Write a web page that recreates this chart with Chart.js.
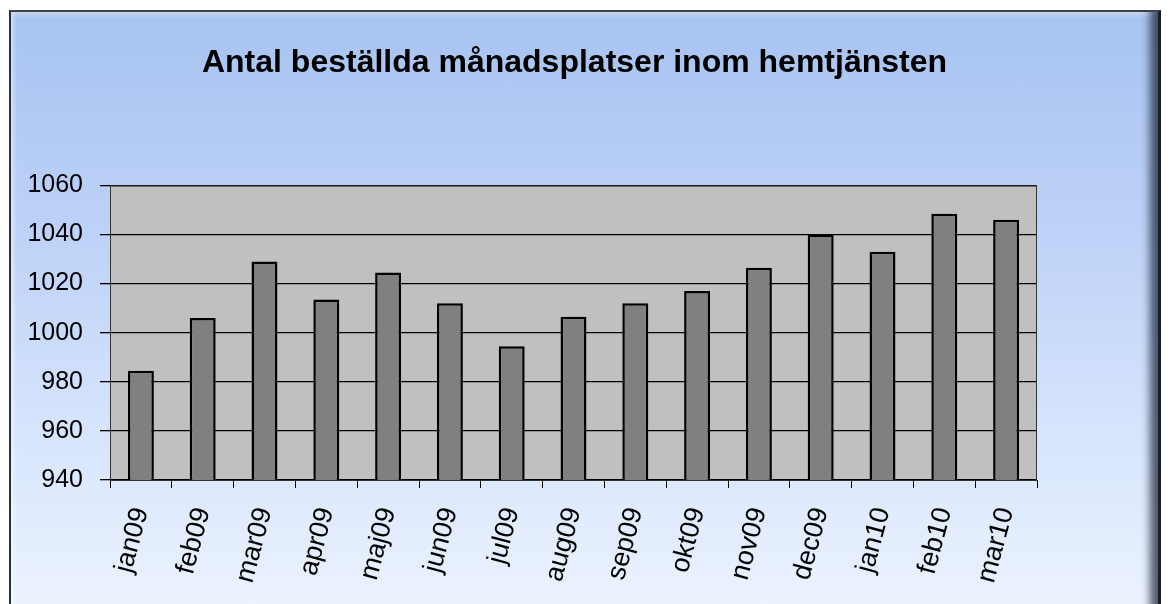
<!DOCTYPE html>
<html>
<head>
<meta charset="utf-8">
<script src="https://cdn.jsdelivr.net/npm/chart.js@4"></script>
<style>
    body { margin: 0; background: #fff; width: 1171px; height: 604px; overflow: hidden; position: relative; }
    #ram {
        position: absolute; left: 9px; top: 10px; width: 1147px; height: 596px;
        border-left: 2px solid #2a2f3a; border-top: 2px solid #3a4150; border-right: 3px solid #1c1f26;
        background: linear-gradient(to bottom, #a7c3f1 0%, #bcd1f7 35%, #d6e4fc 70%, #ecf3ff 100%);
        box-shadow: inset -14px 0 8px -6px rgba(30, 40, 60, 0.75), inset 4px 4px 5px -2px rgba(255, 255, 255, 0.6);
    }
    canvas { position: absolute; left: 0; top: 0; }
</style>
</head>
<body>
<div id="ram"></div>
<canvas id="diagram" width="1171" height="604"></canvas>
<script>
const manader = ['jan09', 'feb09', 'mar09', 'apr09', 'maj09', 'jun09', 'jul09', 'aug09',
    'sep09', 'okt09', 'nov09', 'dec09', 'jan10', 'feb10', 'mar10'];
const platser = [984.5, 1006, 1029, 1013.5, 1024.5, 1012, 994.5, 1006.5, 1012, 1017, 1026.5, 1040, 1033, 1048.5, 1046];
const yMin = 940;
const yMax = 1060;
const ySteg = 20;

const typsnitt = "'Liberation Sans', Arial, sans-serif";

// grå bakgrund och ram runt ritytan
const ritytaPlugin = {
    id: 'rityta',
    beforeDraw(chart) {
        const { ctx, chartArea: a } = chart;
        ctx.save();
        ctx.fillStyle = '#c0c0c0';
        ctx.fillRect(a.left, a.top, a.right - a.left, a.bottom - a.top);
        ctx.restore();
    },
    beforeDatasetsDraw(chart) {
        const { ctx, chartArea: a } = chart;
        ctx.save();
        ctx.strokeStyle = '#333';
        ctx.lineWidth = 1;
        ctx.strokeRect(a.left + 0.5, a.top + 0.5, a.right - a.left - 1, a.bottom - a.top);
        ctx.restore();
    }
};

new Chart(document.getElementById('diagram').getContext('2d'), {
    type: 'bar',
    data: {
        labels: manader,
        datasets: [{
            data: platser,
            backgroundColor: '#808080',
            borderColor: '#000',
            borderWidth: 2.5,
            borderSkipped: false,
            barPercentage: 0.42,
            categoryPercentage: 1
        }]
    },
    options: {
        responsive: false,
        animation: false,
        layout: { padding: { left: 0, right: 22, top: 0, bottom: 0 } },
        plugins: {
            legend: { display: false },
            tooltip: { enabled: false },
            title: {
                display: true,
                text: 'Antal beställda månadsplatser inom hemtjänsten',
                color: '#000',
                font: { family: typsnitt, size: 32, weight: 'bold' },
                padding: { top: 44, bottom: 103 }
            }
        },
        scales: {
            y: {
                min: yMin,
                max: yMax,
                ticks: {
                    stepSize: ySteg, color: '#000', font: { family: typsnitt, size: 25 }, padding: 17,
                    callback: v => String(v)
                },
                grid: { color: '#000', lineWidth: 1.3, tickLength: 10 },
                border: { display: true, color: '#000' },
                afterFit(scale) { scale.width = 110; }
            },
            // tom axel till höger, bara för att ge plats åt marginalen
            hoger: {
                position: 'right',
                min: yMin,
                max: yMax,
                ticks: { display: false },
                grid: { display: false },
                border: { display: false },
                afterFit(scale) { scale.width = 112; }
            },
            x: {
                ticks: { color: '#000', font: { family: typsnitt, size: 27 }, minRotation: 75, maxRotation: 75, padding: 16 },
                grid: { drawOnChartArea: false, color: '#000', tickLength: 8 },
                border: { display: true, color: '#000' },
                afterFit(scale) { scale.height = 124; }
            }
        }
    },
    plugins: [ritytaPlugin]
});
</script>
</body>
</html>
